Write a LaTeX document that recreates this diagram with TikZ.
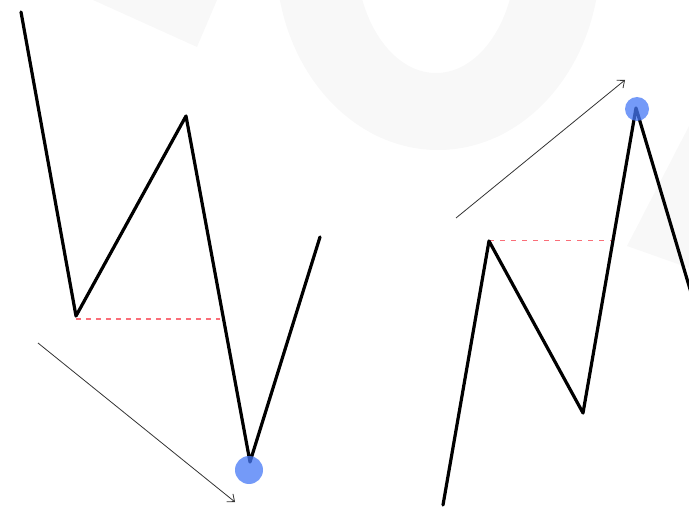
\documentclass[tikz,border=0pt]{standalone}
\usetikzlibrary{arrows.meta}
\definecolor{wmgray}{RGB}{248,248,248}
\definecolor{dotblue}{RGB}{70,120,245}
\definecolor{levelred}{RGB}{250,110,120}
\tikzset{
    wave/.style={line width=3.2pt, line join=round, line cap=round},
    trend/.style={line width=0.8pt, black!80, -{Straight Barb[length=6pt,width=10pt]}},
    level/.style={levelred, line width=1.5pt, dash pattern=on 5pt off 5pt},
    extreme/.style={fill=dotblue, fill opacity=0.75}
}
\begin{document}
\begin{tikzpicture}[x=1pt, y=-1pt]
    \useasboundingbox (0,0) rectangle (689,508);
    \clip (0,0) rectangle (689,508);
    % Watermark
    \fill[wmgray, even odd rule] (438,-42) ellipse [x radius=162, y radius=192]
        (436,-47) ellipse [x radius=80, y radius=120];
    \fill[wmgray] (93,0) -- (217,0) -- (197,47) -- cycle;
    \fill[wmgray] (689,126) -- (627,246) -- (689,268) -- cycle;
    % Left wave (down)
    \coordinate (a1) at (21,12); \coordinate (a2) at (76,316); \coordinate (a3) at (186,116);
    \coordinate (a4) at (250,462); \coordinate (a5) at (320,237);
    \coordinate (l1) at (220,319);
    \coordinate (s1) at (38,343); \coordinate (s2) at (235,502);
    \draw[level] (a2 |- l1) -- (l1);
    \draw[wave] (a1) -- (a2) -- (a3) -- (a4) -- (a5);
    \draw[trend] (s1) -- (s2);
    \fill[extreme] (249,470) circle (14);
    % Right wave (up)
    \coordinate (b1) at (443,505); \coordinate (b2) at (489,241); \coordinate (b3) at (583,413);
    \coordinate (b4) at (636,108); \coordinate (b5) at (701,326);
    \coordinate (l2) at (613,241);
    \coordinate (t1) at (456,218); \coordinate (t2) at (625,80);
    \draw[level, line width=1pt, dash pattern=on 5pt off 6pt] (b2) -- (l2);
    \draw[wave] (b1) -- (b2) -- (b3) -- (b4) -- (b5);
    \draw[trend] (t1) -- (t2);
    \fill[extreme] (637,109) circle (12);
\end{tikzpicture}
\end{document}
